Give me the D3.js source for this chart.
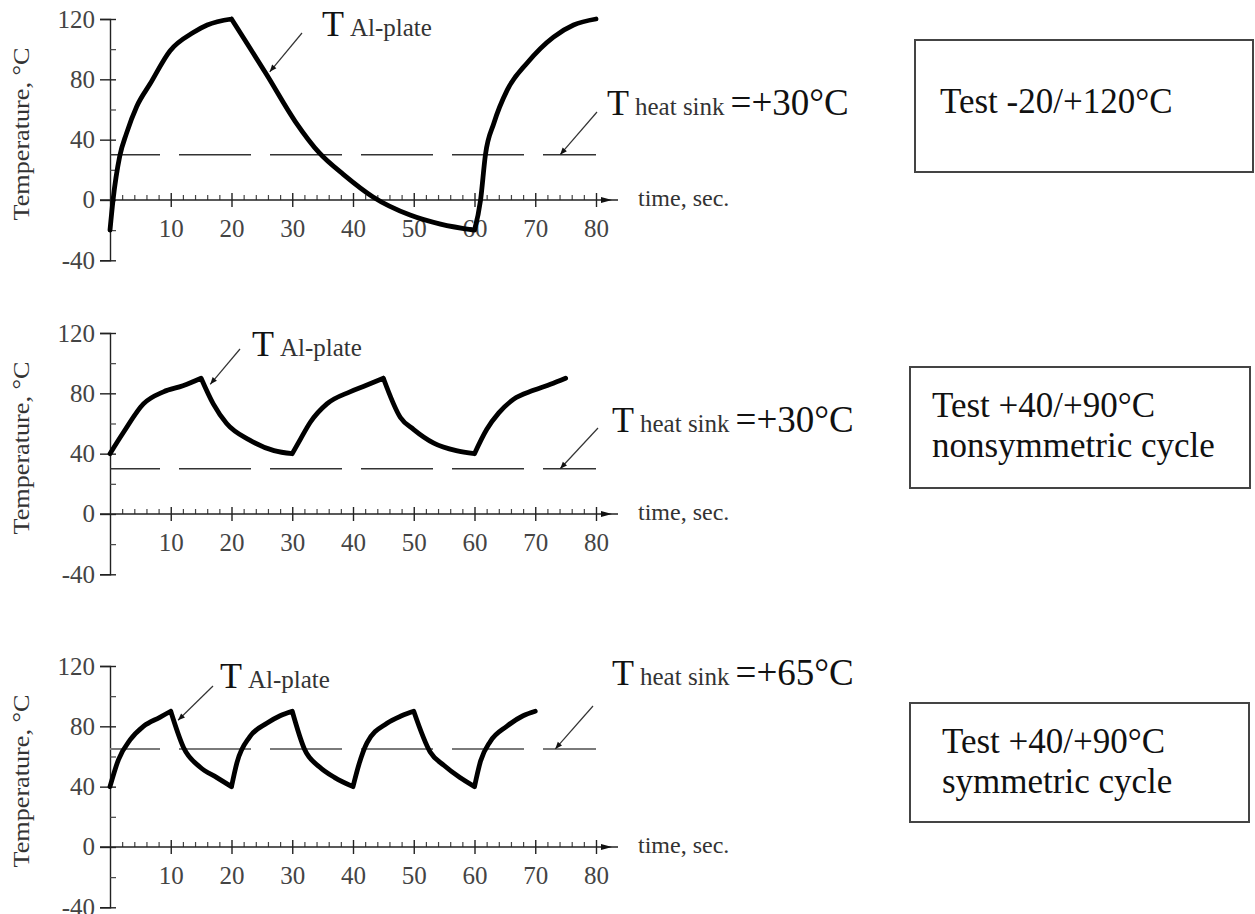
<!DOCTYPE html>
<html lang="en">
<head>
<meta charset="UTF-8" />
<title>Thermal cycling tests</title>
<script src="https://d3js.org/d3.v7.min.js"></script>
<style>
  body { margin: 0; background: #fff; }
  text { font-family: "Liberation Serif", "Times New Roman", serif; }
</style>
</head>
<body>
<svg id="chart"></svg>
<script>
const width = 1255
const height = 914

// axis ticks
const timeTicks = [10, 20, 30, 40, 50, 60, 70, 80]
const timeMinor = [2, 4, 6, 8, 12, 14, 16, 18, 22, 24, 26, 28, 32, 34, 36, 38, 42, 44, 46, 48, 52, 54, 56, 58, 62, 64, 66, 68, 72, 74, 76, 78]
const tempTicks = [-40, 0, 40, 80, 120]
const tempMinor = [-20, 20, 60, 100]

// Test -20/+120
const time1 = [0, 0.5, 1.6, 2.7, 4.4, 6.6, 9.9, 13.7, 16, 20, 25.8, 30.5, 34.5, 38.4, 43.3, 49.4, 54.4, 60, 61, 61.8, 63.2, 65.4, 68.7, 73, 76.3, 80]
const temp1 = [-20, 0, 29, 44, 62, 77, 99, 111, 116, 120, 83, 52, 31, 17, 2, -10, -16, -20, 0, 30, 51, 73, 91, 108, 116, 120]

// Test +40/+90 nonsymmetric
const time2 = [0, 2.2, 5.5, 8.8, 12, 15, 17, 19.2, 23, 27, 30, 31.4, 33, 35.7, 39.5, 42, 45, 47.8, 50, 53.3, 57, 60, 62, 64, 66.4, 69.7, 72.5, 75]
const temp2 = [40, 54, 73, 81, 85, 90, 73, 60, 49, 42, 40, 50, 61, 73, 81, 85, 90, 64, 56, 47, 42, 40, 56, 67, 76, 82, 86, 90]

// Test +40/+90 symmetric
const time3 = [0, 1.4, 3.3, 5.5, 8.2, 10, 12.1, 14.8, 17.6, 20, 20.9, 23, 25.8, 28, 30, 32, 34.5, 37, 40, 41, 42.3, 45.6, 48, 50, 52.7, 55, 57.6, 60, 61, 62.6, 65.3, 68, 70]
const temp3 = [40, 58, 71, 80, 86, 90, 66, 53, 46, 40, 56, 73, 82, 87, 90, 65, 53, 46, 40, 55, 69, 82, 87, 90, 63, 54, 46, 40, 57, 70, 80, 87, 90]

const heatSink = [30, 30, 65]
const sinkLabels = ['=+30°C', '=+30°C', '=+65°C']
const boxTexts = [
  ['Test -20/+120°C'],
  ['Test +40/+90°C', 'nonsymmetric cycle'],
  ['Test +40/+90°C', 'symmetric cycle'],
]

const svg = d3.select('#chart').attr('width', width).attr('height', height)

svg.append('defs').append('marker')
  .attr('id', 'head')
  .attr('viewBox', '0 0 10 10')
  .attr('refX', 10).attr('refY', 5)
  .attr('markerWidth', 10).attr('markerHeight', 7)
  .attr('markerUnits', 'userSpaceOnUse')
  .attr('orient', 'auto')
  .append('path').attr('d', 'M0,1 L10,5 L0,9 Z').attr('fill', '#111')

const x = d3.scaleLinear().domain([0, 80]).range([110, 596])

const layout = [
  { y0: 200, time: time1, temp: temp1, sinkColor: '#333', sinkWidth: 1.6,
    plate: { tx: 322, ty: 36, from: [302, 33], to: [26.3, 85] },
    sink: { tx: 607, ty: 115, from: [597, 112], to: [74.1, 30] },
    box: { x: 915, y: 40, w: 338, h: 132, tx: 940, ty: [113] } },
  { y0: 514, time: time2, temp: temp2, sinkColor: '#333', sinkWidth: 1.6,
    plate: { tx: 252, ty: 356, from: [240, 349], to: [16.5, 86] },
    sink: { tx: 612, ty: 432, from: [598, 428], to: [74.1, 30] },
    box: { x: 910, y: 367, w: 340, h: 121, tx: 932, ty: [417, 457] } },
  { y0: 847, time: time3, temp: temp3, sinkColor: '#7a7a7a', sinkWidth: 2,
    plate: { tx: 220, ty: 688, from: [213, 686], to: [11.2, 84] },
    sink: { tx: 612, ty: 685, from: [593, 706], to: [73.3, 65] },
    box: { x: 910, y: 703, w: 339, h: 119, tx: 942, ty: [753, 793] } },
]

// split a series at its turning points so every piece is monotone
function monotoneRuns(pts) {
  const runs = []
  let cur = [pts[0]]
  for (let k = 1; k < pts.length; k++) {
    cur.push(pts[k])
    if (k < pts.length - 1) {
      const a = Math.sign(pts[k][1] - pts[k - 1][1])
      const b = Math.sign(pts[k + 1][1] - pts[k][1])
      if (a !== b) { runs.push(cur); cur = [pts[k]] }
    }
  }
  runs.push(cur)
  return runs
}

layout.forEach((p, i) => {
  const y = d3.scaleLinear().domain([-40, 120]).range([p.y0 + 60.3, p.y0 - 181])
  const g = svg.append('g')

  // y axis
  const yAxis = g.append('g').attr('transform', `translate(${x(0)},0)`)
    .call(d3.axisLeft(y).tickValues(tempTicks).tickSize(10).tickPadding(5).tickFormat(d => String(d)))
  yAxis.select('.domain').attr('stroke', '#222').attr('stroke-width', 1.4)
  yAxis.selectAll('.tick line').attr('x2', -10).attr('x1', 6).attr('stroke', '#222').attr('stroke-width', 1.4)
  yAxis.selectAll('.tick text').attr('font-size', 25).attr('fill', '#444')
    .attr('font-family', '"Liberation Serif", serif')

  const yMinor = g.append('g').attr('transform', `translate(${x(0)},0)`)
    .call(d3.axisRight(y).tickValues(tempMinor).tickSize(6).tickFormat(''))
  yMinor.select('.domain').remove()
  yMinor.selectAll('.tick line').attr('stroke', '#444').attr('stroke-width', 1.2)

  // x axis
  const xAxis = g.append('g').attr('transform', `translate(0,${y(0)})`)
    .call(d3.axisBottom(x).tickValues(timeTicks).tickSize(7).tickPadding(12).tickFormat(d => String(d)))
  xAxis.select('.domain').remove()
  xAxis.selectAll('.tick line').attr('y1', -7).attr('stroke', '#222').attr('stroke-width', 1.4)
  xAxis.selectAll('.tick text').attr('font-size', 25).attr('fill', '#444')
    .attr('font-family', '"Liberation Serif", serif')

  const xMinor = g.append('g').attr('transform', `translate(0,${y(0)})`)
    .call(d3.axisBottom(x).tickValues(timeMinor).tickSize(-5).tickFormat(''))
  xMinor.select('.domain').remove()
  xMinor.selectAll('.tick line').attr('stroke', '#444').attr('stroke-width', 1.2)

  g.append('line')
    .attr('x1', x(0) - 10).attr('x2', x(80) + 22)
    .attr('y1', y(0)).attr('y2', y(0))
    .attr('stroke', '#222').attr('stroke-width', 1.4)
  g.append('path')
    .attr('d', `M${x(80) + 5},${y(0) - 3} L${x(80) + 16},${y(0)} L${x(80) + 5},${y(0) + 3} Z`)
    .attr('fill', '#111')

  g.append('text')
    .attr('x', 638).attr('y', y(0) + 6)
    .attr('font-size', 24).attr('fill', '#333')
    .text('time, sec.')

  // y title
  g.append('text')
    .attr('transform', `translate(29,${p.y0 - 66}) rotate(-90)`)
    .attr('text-anchor', 'middle')
    .attr('font-size', 24).attr('fill', '#333')
    .attr('textLength', 173).attr('lengthAdjust', 'spacingAndGlyphs')
    .text('Temperature, °C')

  // heat sink line
  g.append('line')
    .attr('x1', x(0)).attr('x2', x(80))
    .attr('y1', y(heatSink[i])).attr('y2', y(heatSink[i]))
    .attr('stroke', p.sinkColor).attr('stroke-width', p.sinkWidth)
    .attr('stroke-dasharray', '72 19').attr('stroke-dashoffset', 22)

  // plate temperature curve, smooth between turning points
  const pts = p.time.map((t, k) => [t, p.temp[k]])
  const line = d3.line().x(d => x(d[0])).y(d => y(d[1])).curve(d3.curveMonotoneX)
  g.append('path')
    .attr('fill', 'none')
    .attr('stroke', '#000')
    .attr('stroke-width', 4.8)
    .attr('stroke-linejoin', 'round')
    .attr('stroke-linecap', 'round')
    .attr('d', monotoneRuns(pts).map(r => line(r)).join(''))

  // plate label
  g.append('line')
    .attr('x1', p.plate.from[0]).attr('y1', p.plate.from[1])
    .attr('x2', x(p.plate.to[0])).attr('y2', y(p.plate.to[1]))
    .attr('stroke', '#333').attr('stroke-width', 1.2)
    .attr('marker-end', 'url(#head)')
  const pl = g.append('text').attr('x', p.plate.tx).attr('y', p.plate.ty).attr('fill', '#111')
  pl.append('tspan').attr('font-size', 36).text('T')
  pl.append('tspan').attr('font-size', 25).attr('dx', 6).attr('fill', '#333').text('Al-plate')

  // heat sink label
  g.append('line')
    .attr('x1', p.sink.from[0]).attr('y1', p.sink.from[1])
    .attr('x2', x(p.sink.to[0])).attr('y2', y(p.sink.to[1]))
    .attr('stroke', '#333').attr('stroke-width', 1.2)
    .attr('marker-end', 'url(#head)')
  const sl = g.append('text').attr('x', p.sink.tx).attr('y', p.sink.ty).attr('fill', '#111')
  sl.append('tspan').attr('font-size', 36).text('T')
  sl.append('tspan').attr('font-size', 25).attr('dx', 6).attr('fill', '#333').text('heat sink')
  sl.append('tspan').attr('font-size', 37).attr('dx', 6).text(sinkLabels[i])

  // test box
  g.append('rect')
    .attr('x', p.box.x).attr('y', p.box.y)
    .attr('width', p.box.w).attr('height', p.box.h)
    .attr('fill', 'none').attr('stroke', '#444').attr('stroke-width', 2)
  boxTexts[i].forEach((line, k) => {
    g.append('text')
      .attr('x', p.box.tx).attr('y', p.box.ty[k])
      .attr('font-size', 35).attr('fill', '#111')
      .text(line)
  })
})
</script>
</body>
</html>
